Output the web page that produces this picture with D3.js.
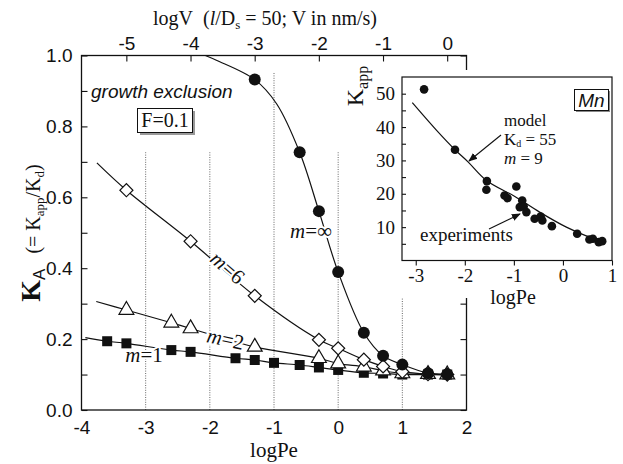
<!DOCTYPE html>
<html><head><meta charset="utf-8">
<script src="https://cdn.jsdelivr.net/npm/d3@7/dist/d3.min.js"></script>
<style>
html,body{margin:0;padding:0;background:#fff;}
svg{display:block;}
</style></head><body>
<svg id="chart" width="623" height="464"></svg>
<script>
// ---------- main panel data: K_A versus logPe ----------
const logPeTicks = [-4, -3, -2, -1, 0, 1, 2];
const logVTicks = [-5, -4, -3, -2, -1, 0];
const kaTicks = [0, 0.1, 0.2, 0.3, 0.4, 0.5, 0.6, 0.7, 0.8, 0.9, 1.0];
const gridLogPe = [-3, -2, -1, 0, 1];
const gridTopKA = [0.727, 0.727, 0.952, 0.727, 0.727];

// m = 1 (filled squares)
const m1LogPe = [-3.6, -3.3, -2.6, -2.3, -1.6, -1.3, -1.0, -0.6, -0.3, 0, 0.4, 0.7, 1.0, 1.4, 1.7];
const m1KA    = [0.194, 0.188, 0.169, 0.164, 0.146, 0.141, 0.133, 0.127, 0.120, 0.113, 0.105, 0.103, 0.100, 0.100, 0.100];
const m1CurveLogPe = [-3.94, -3.6, -3.3, -2.6, -2.3, -1.6, -1.3, -1.0, -0.6, -0.3, 0, 0.4, 0.7, 1.0, 1.4, 1.7];
const m1CurveKA    = [0.204, 0.194, 0.188, 0.169, 0.164, 0.146, 0.141, 0.133, 0.127, 0.120, 0.113, 0.105, 0.103, 0.100, 0.100, 0.100];

// m = 2 (open triangles)
const m2LogPe = [-3.3, -2.6, -2.3, -1.3, -0.3, 0, 0.4, 0.7, 1.0, 1.4, 1.7];
const m2KA    = [0.282, 0.246, 0.230, 0.178, 0.146, 0.131, 0.122, 0.111, 0.103, 0.101, 0.100];
const m2CurveLogPe = [-3.77, -3.3, -2.6, -2.3, -1.3, -0.3, 0, 0.4, 0.7, 1.0, 1.4, 1.7];
const m2CurveKA    = [0.306, 0.282, 0.246, 0.230, 0.178, 0.146, 0.131, 0.122, 0.111, 0.103, 0.101, 0.100];

// m = 6 (open diamonds)
const m6LogPe = [-3.3, -2.3, -1.3, -0.3, 0, 0.4, 0.7, 1.0, 1.4, 1.7];
const m6KA    = [0.620, 0.476, 0.322, 0.198, 0.174, 0.142, 0.123, 0.108, 0.101, 0.100];
const m6CurveLogPe = [-3.76, -3.3, -2.3, -1.3, -0.3, 0, 0.4, 0.7, 1.0, 1.4, 1.7];
const m6CurveKA    = [0.697, 0.620, 0.476, 0.322, 0.198, 0.174, 0.142, 0.123, 0.108, 0.101, 0.100];

// m = infinity (filled circles)
const mInfLogPe = [-1.3, -0.6, -0.3, 0, 0.4, 0.7, 1.0, 1.4, 1.7];
const mInfKA    = [0.932, 0.727, 0.561, 0.389, 0.218, 0.153, 0.128, 0.104, 0.101];
const mInfCurveLogPe = [-2.07, -1.89, -1.3, -0.96, -0.6, -0.3, 0, 0.4, 0.7, 1.0, 1.4, 1.7];
const mInfCurveKA    = [1.000, 0.986, 0.932, 0.864, 0.727, 0.561, 0.389, 0.218, 0.153, 0.128, 0.104, 0.101];

// ---------- inset data: Mn, K_app versus logPe ----------
const insetXTicks = [-3, -2, -1, 0, 1];
const insetYTicks = [5, 10, 15, 20, 25, 30, 35, 40, 45, 50];
const mnLogPe = [-2.83, -2.20, -1.55, -1.56, -0.95, -1.19, -1.13, -0.83, -0.88, -0.80, -0.745, -0.577, -0.455, -0.42, -0.225, 0.29, 0.54, 0.61, 0.73, 0.80];
const mnKapp  = [51.3, 33.2, 23.8, 21.2, 22.2, 19.5, 18.7, 18.0, 16.0, 16.2, 14.5, 12.5, 13.2, 12.0, 10.3, 8.0, 6.3, 6.5, 5.5, 5.8];
const modelLogPe = [-3.07, -2.575, -2.20, -1.93, -1.56, -0.98, -0.475, 0.07, 0.54, 0.81];
const modelKapp  = [47.3, 39.0, 33.2, 29.5, 24.0, 19.2, 14.5, 10.0, 7.0, 5.8];

// ---------- drawing ----------
const svg = d3.select("#chart");
const INK = "#111";
const SANS = "'Liberation Sans', Arial, sans-serif";
const SERIF = "'Liberation Serif', 'Times New Roman', serif";
const zip = (a, b) => a.map((v, i) => [v, b[i]]);

const x = d3.scaleLinear().domain([-4, 2]).range([81.5, 466.5]);
const y = d3.scaleLinear().domain([0, 1]).range([410, 55.5]);
const LOG50 = Math.log10(50);   // Pe = 50 V, so logV = logPe - log 50
const xTop = d3.scaleLinear().domain([-4 - LOG50, 2 - LOG50]).range([81.5, 466.5]);

// dotted verticals at the logPe ticks
svg.append("g").selectAll("line").data(gridLogPe).join("line")
  .attr("x1", d => x(d)).attr("x2", d => x(d))
  .attr("y1", y(0)).attr("y2", (d, i) => y(gridTopKA[i]))
  .attr("stroke", "#666").attr("stroke-width", 1).attr("stroke-dasharray", "1,1.4");

// axes
function styleAxis(g, font, size) {
  g.select(".domain").remove();
  g.selectAll(".tick line").attr("stroke", INK).attr("stroke-width", 1.1);
  g.selectAll(".tick text").attr("fill", INK).style("font-family", font).style("font-size", size + "px");
}
svg.append("g").attr("transform", "translate(81.5,0)")
  .call(d3.axisLeft(y).tickValues(kaTicks).tickSize(-6).tickPadding(9)
    .tickFormat(d => (Math.round(d * 10) % 2 === 0) ? d3.format(".1f")(d) : ""))
  .call(g => styleAxis(g, SANS, 19));
svg.append("g").attr("transform", "translate(466.5,0)")
  .call(d3.axisRight(y).tickValues(kaTicks).tickSize(-6).tickFormat(""))
  .call(g => styleAxis(g, SANS, 19));
svg.append("g").attr("transform", "translate(0,410)")
  .call(d3.axisBottom(x).tickValues(logPeTicks).tickSize(0).tickPadding(11).tickFormat(d => String(d)))
  .call(g => styleAxis(g, SANS, 19));
svg.append("g").attr("transform", "translate(0,55.5)")
  .call(d3.axisTop(xTop).tickValues(logVTicks).tickSize(-6).tickPadding(6).tickFormat(d => String(d)))
  .call(g => styleAxis(g, SANS, 19));

// frame
svg.append("rect").attr("x", 81.5).attr("y", 55.5).attr("width", 385).attr("height", 354.5)
  .attr("fill", "none").attr("stroke", INK).attr("stroke-width", 1.3);

// axis titles
const topTitle = svg.append("text").attr("x", 265).attr("y", 25).attr("text-anchor", "middle")
  .style("font-family", SERIF).style("font-size", "20px").attr("fill", INK);
topTitle.append("tspan").text("logV\u00a0\u00a0(");
topTitle.append("tspan").style("font-style", "italic").text("l");
topTitle.append("tspan").text("/D");
topTitle.append("tspan").attr("dy", 4).style("font-size", "13px").text("s");
topTitle.append("tspan").attr("dy", -4).text(" = 50; V in nm/s)");

svg.append("text").attr("x", 274).attr("y", 457).attr("text-anchor", "middle")
  .style("font-family", SERIF).style("font-size", "21px").attr("fill", INK).text("logPe");

const yTitle = svg.append("text").attr("transform", "translate(40,233) rotate(-90)")
  .attr("text-anchor", "middle").style("font-family", SERIF).attr("fill", INK);
yTitle.append("tspan").style("font-size", "28px").style("font-weight", "bold").text("K");
yTitle.append("tspan").attr("dy", 5).style("font-size", "17px").style("font-family", SANS).text("A");
yTitle.append("tspan").attr("dy", -5).style("font-size", "20px").text("\u00a0\u00a0\u00a0(= K");
yTitle.append("tspan").attr("dy", 4).style("font-size", "13px").text("app");
yTitle.append("tspan").attr("dy", -4).style("font-size", "20px").text("/K");
yTitle.append("tspan").attr("dy", 4).style("font-size", "13px").text("d");
yTitle.append("tspan").attr("dy", -4).style("font-size", "20px").text(")");

// model curves
const line = d3.line().x(d => x(d[0])).y(d => y(d[1])).curve(d3.curveCatmullRom.alpha(0.5));
[[m1CurveLogPe, m1CurveKA], [m2CurveLogPe, m2CurveKA], [m6CurveLogPe, m6CurveKA], [mInfCurveLogPe, mInfCurveKA]]
  .forEach(([lx, ly]) => {
    svg.append("path").datum(zip(lx, ly)).attr("d", line)
      .attr("fill", "none").attr("stroke", INK).attr("stroke-width", 1.2);
  });

// curve labels (white halo breaks the line underneath)
function mLabel(tx, ty, rot, rhs) {
  const t = svg.append("text").attr("transform", `translate(${tx},${ty}) rotate(${rot})`)
    .attr("text-anchor", "middle").style("font-family", SERIF).style("font-size", "21px")
    .attr("fill", INK).attr("stroke", "#fff").attr("stroke-width", 4).attr("paint-order", "stroke");
  t.append("tspan").style("font-style", "italic").text("m");
  t.append("tspan").text("=" + rhs);
}
mLabel(223, 273, 41, "6");
mLabel(224, 346, 12, "2");
mLabel(144, 362, 0, "1");
mLabel(311, 238, 0, "\u221e");

// markers
const sym = (type, size) => d3.symbol().type(type).size(size)();
svg.append("g").selectAll("path").data(zip(m1LogPe, m1KA)).join("path")
  .attr("transform", d => `translate(${x(d[0])},${y(d[1])})`)
  .attr("d", sym(d3.symbolSquare, 100)).attr("fill", INK);
svg.append("g").selectAll("path").data(zip(m2LogPe, m2KA)).join("path")
  .attr("transform", d => `translate(${x(d[0])},${y(d[1])})`)
  .attr("d", sym(d3.symbolTriangle, 95)).attr("fill", "#fff").attr("stroke", INK).attr("stroke-width", 1.2);
svg.append("g").selectAll("path").data(zip(m6LogPe, m6KA)).join("path")
  .attr("transform", d => `translate(${x(d[0])},${y(d[1])}) rotate(45)`)
  .attr("d", sym(d3.symbolSquare, 85)).attr("fill", "#fff").attr("stroke", INK).attr("stroke-width", 1.2);
svg.append("g").selectAll("circle").data(zip(mInfLogPe, mInfKA)).join("circle")
  .attr("cx", d => x(d[0])).attr("cy", d => y(d[1])).attr("r", 6).attr("fill", INK);

// annotations
svg.append("text").attr("x", 91).attr("y", 98).style("font-family", SANS).style("font-size", "19px")
  .style("font-style", "italic").attr("fill", INK).text("growth exclusion");
svg.append("rect").attr("x", 140).attr("y", 111).attr("width", 55).attr("height", 24).attr("fill", "#999");
svg.append("rect").attr("x", 137.5).attr("y", 108.5).attr("width", 55).attr("height", 24)
  .attr("fill", "#fff").attr("stroke", INK).attr("stroke-width", 1);
svg.append("text").attr("x", 165).attr("y", 127).attr("text-anchor", "middle")
  .style("font-family", SERIF).style("font-size", "20px").attr("fill", INK).text("F=0.1");

// ---------- inset ----------
svg.append("rect").attr("x", 343).attr("y", 70).attr("width", 280).attr("height", 196).attr("fill", "#fff");
svg.append("rect").attr("x", 392).attr("y", 265).attr("width", 231).attr("height", 33).attr("fill", "#fff");

const ix = d3.scaleLinear().domain([-3.28, 1]).range([402, 612]);
const iy = d3.scaleLinear().domain([0, 55]).range([260.5, 77]);

svg.append("g").attr("transform", "translate(402,0)")
  .call(d3.axisLeft(iy).tickValues(insetYTicks).tickSize(-4).tickPadding(7)
    .tickFormat(d => d % 10 === 0 ? String(d) : ""))
  .call(g => styleAxis(g, SERIF, 19));
svg.append("g").attr("transform", "translate(0,260.5)")
  .call(d3.axisBottom(ix).tickValues(insetXTicks).tickSize(5).tickPadding(3).tickFormat(d => String(d)))
  .call(g => styleAxis(g, SERIF, 19));
svg.append("rect").attr("x", 402).attr("y", 77).attr("width", 210).attr("height", 183.5)
  .attr("fill", "none").attr("stroke", INK).attr("stroke-width", 1.2);

svg.append("text").attr("x", 513).attr("y", 304).attr("text-anchor", "middle")
  .style("font-family", SERIF).style("font-size", "20px").attr("fill", INK).text("logPe");
const kTitle = svg.append("text").attr("transform", "translate(363,86) rotate(-90)")
  .attr("text-anchor", "middle").style("font-family", SERIF).attr("fill", INK);
kTitle.append("tspan").style("font-size", "24px").text("K");
kTitle.append("tspan").attr("dy", 5).style("font-size", "16px").text("app");

const iline = d3.line().x(d => ix(d[0])).y(d => iy(d[1])).curve(d3.curveCatmullRom.alpha(0.5));
svg.append("path").datum(zip(modelLogPe, modelKapp)).attr("d", iline)
  .attr("fill", "none").attr("stroke", INK).attr("stroke-width", 1.2);
svg.append("g").selectAll("circle").data(zip(mnLogPe, mnKapp)).join("circle")
  .attr("cx", d => ix(d[0])).attr("cy", d => iy(d[1])).attr("r", 4.3).attr("fill", INK);

// Mn tag
svg.append("rect").attr("x", 576).attr("y", 91).attr("width", 34).attr("height", 21).attr("fill", "#888");
svg.append("rect").attr("x", 574.5).attr("y", 89.5).attr("width", 34).attr("height", 21)
  .attr("fill", "#fff").attr("stroke", INK).attr("stroke-width", 1);
svg.append("text").attr("x", 591.5).attr("y", 107).attr("text-anchor", "middle")
  .style("font-family", SANS).style("font-size", "19px").style("font-style", "italic").attr("fill", INK).text("Mn");

// model / experiments callouts
const note = (tx, ty, size) => svg.append("text").attr("x", tx).attr("y", ty)
  .style("font-family", SERIF).style("font-size", size + "px").attr("fill", INK);
note(504, 126, 17).text("model");
const kd = note(504, 145, 17);
kd.append("tspan").text("K");
kd.append("tspan").attr("dy", 2).style("font-size", "10px").text("d");
kd.append("tspan").attr("dy", -2).text(" = 55");
const mm = note(504, 164, 17);
mm.append("tspan").style("font-style", "italic").text("m");
mm.append("tspan").text(" = 9");
note(420, 241, 19).text("experiments");

svg.append("defs").append("marker").attr("id", "ah").attr("viewBox", "0 0 10 10")
  .attr("refX", 9).attr("refY", 5).attr("markerWidth", 9).attr("markerHeight", 9)
  .attr("markerUnits", "userSpaceOnUse").attr("orient", "auto")
  .append("path").attr("d", "M0,1 L10,5 L0,9 Z").attr("fill", INK);
svg.append("line").attr("x1", 501).attr("y1", 135).attr("x2", 469).attr("y2", 161)
  .attr("stroke", INK).attr("stroke-width", 1.1).attr("marker-end", "url(#ah)");
svg.append("line").attr("x1", 489).attr("y1", 229).attr("x2", 520).attr("y2", 214)
  .attr("stroke", INK).attr("stroke-width", 1.1).attr("marker-end", "url(#ah)");
</script>
</body></html>
